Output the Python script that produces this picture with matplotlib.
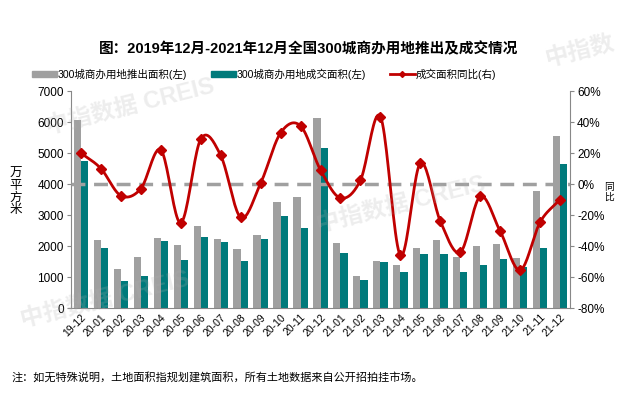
import numpy as np
import matplotlib
matplotlib.use('Agg')
import matplotlib.pyplot as plt
from matplotlib.lines import Line2D
from matplotlib.patches import Patch

plt.rcParams['font.family'] = ['Liberation Sans', 'Noto Sans CJK SC', 'DejaVu Sans']

months = ['19-12', '20-01', '20-02', '20-03', '20-04', '20-05', '20-06', '20-07', '20-08',
          '20-09', '20-10', '20-11', '20-12', '21-01', '21-02', '21-03', '21-04', '21-05',
          '21-06', '21-07', '21-08', '21-09', '21-10', '21-11', '21-12']
supply = [6050, 2190, 1260, 1650, 2250, 2040, 2640, 2220, 1910, 2370, 3420, 3580, 6130,
          2090, 1030, 1510, 1390, 1930, 2200, 1640, 1990, 2060, 1600, 3790, 5540]
deal = [4750, 1950, 890, 1040, 2170, 1540, 2280, 2130, 1510, 2240, 2970, 2580, 5170,
        1790, 900, 1490, 1180, 1740, 1740, 1180, 1390, 1570, 1330, 1930, 4650]
yoy = [20, 10, -7.5, -3, 22, -25, 29, 18.5, -21.5, 0.5, 33, 37.5, 9,
       -9, 2.5, 43.5, -46, 13.5, -24, -44, -8, -30.5, -55.5, -24.5, -10]

GRAY = '#A0A0A0'
TEAL = '#007A7B'
RED = '#C00000'


def smooth(x, y, n=20):
    # catmull-rom curve through the points, like excel's smoothed line
    x = np.asarray(x, float)
    y = np.asarray(y, float)
    px = np.concatenate([[2 * x[0] - x[1]], x, [2 * x[-1] - x[-2]]])
    py = np.concatenate([[2 * y[0] - y[1]], y, [2 * y[-1] - y[-2]]])
    xs, ys = [], []
    t = np.linspace(0, 1, n, endpoint=False)
    for i in range(1, len(px) - 2):
        for p, out in ((px, xs), (py, ys)):
            p0, p1, p2, p3 = p[i - 1], p[i], p[i + 1], p[i + 2]
            out.extend(0.5 * (2 * p1 + (-p0 + p2) * t + (2 * p0 - 5 * p1 + 4 * p2 - p3) * t ** 2
                              + (-p0 + 3 * p1 - 3 * p2 + p3) * t ** 3))
    xs.append(x[-1])
    ys.append(y[-1])
    return xs, ys


fig = plt.figure(figsize=(6.17, 3.94), dpi=100)
ax = fig.add_axes([0.115, 0.218, 0.809, 0.551])
x = np.arange(len(months))
w = 0.36
ax.bar(x - w / 2, supply, w, color=GRAY, zorder=2)
ax.bar(x + w / 2, deal, w, color=TEAL, zorder=2)
ax.set_xlim(-0.5, len(months) - 0.5)
ax.set_ylim(0, 7000)
ax.set_yticks(range(0, 7001, 1000))
ax.set_xticks(x)
ax.set_xticklabels(months, rotation=45, ha='right', rotation_mode='anchor', fontsize=7.5)
ax.tick_params(axis='x', length=0, pad=3)
ax.tick_params(axis='y', labelsize=8.5, length=3, color='#888888', pad=2)
for s in ['top', 'right']:
    ax.spines[s].set_visible(False)
for s in ['left', 'bottom']:
    ax.spines[s].set_color('#888888')
    ax.spines[s].set_linewidth(0.8)

ax2 = ax.twinx()
ax2.set_ylim(-80, 60)
ax2.set_yticks(range(-80, 61, 20))
ax2.set_yticklabels([f'{v}%' for v in range(-80, 61, 20)])
ax2.tick_params(axis='y', labelsize=8.5, length=3, color='#888888', pad=2)
for s in ['top', 'left', 'bottom']:
    ax2.spines[s].set_visible(False)
ax2.spines['right'].set_color('#888888')
ax2.spines['right'].set_linewidth(0.8)
ax2.axhline(0, color='#A0A0A0', lw=2.5, ls=(0, (4, 2.5)), zorder=1)
sx, sy = smooth(x, yoy)
ax2.plot(sx, sy, color=RED, lw=2, zorder=3)
ax2.plot(x, yoy, ls='none', marker='D', ms=5, color=RED, zorder=4)

fig.text(0.5, 0.875, '图：2019年12月-2021年12月全国300城商办用地推出及成交情况',
         ha='center', va='center', fontsize=10.5, fontweight='bold')
handles = [Patch(color=GRAY), Patch(color=TEAL),
           Line2D([], [], color=RED, lw=2, marker='D', ms=3)]
labels = ['300城商办用地推出面积(左)', '300城商办用地成交面积(左)', '成交面积同比(右)']
fig.legend(handles, labels, loc='center', bbox_to_anchor=(0.428, 0.812), ncol=3,
           frameon=False, fontsize=7.6, handlelength=2.4, handleheight=0.45,
           columnspacing=2.2, handletextpad=0.1)

fig.text(0.026, 0.513, '万\n平\n方\n米', ha='center', va='center', fontsize=9, linespacing=1.0)
fig.text(0.995, 0.513, '同\n比', ha='right', va='center', fontsize=7, linespacing=1.0)
fig.text(0.018, 0.043, '注：如无特殊说明，土地面积指规划建筑面积，所有土地数据来自公开招拍挂市场。',
         ha='left', va='center', fontsize=8)

# faint watermarks
for wx, wy, txt in [(0.21, 0.73, '中指数据 CREIS'), (0.65, 0.48, '中指数据 CREIS'),
                    (0.17, 0.24, '中指数据 CREIS'), (0.94, 0.87, '中指数')]:
    fig.text(wx, wy, txt, ha='center', va='center', fontsize=17,
             fontweight='bold', rotation=14, color='#B0B0B0', alpha=0.22)

fig.savefig('out.png', dpi=100)
